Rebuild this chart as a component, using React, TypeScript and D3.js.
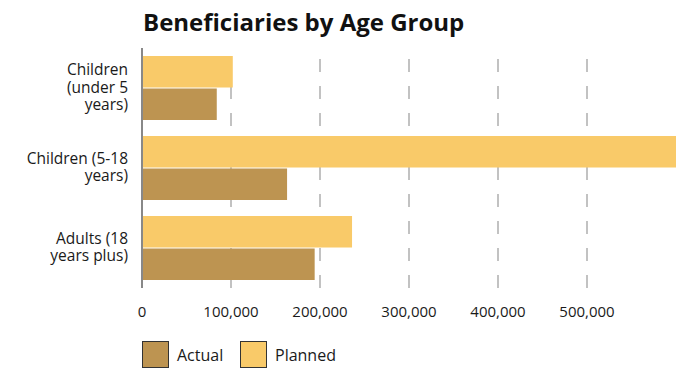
import React from "react";
import * as d3 from "d3";

const categories: string[][] = [
  ["Children", "(under 5", "years)"],
  ["Children (5-18", "years)"],
  ["Adults (18", "years plus)"],
];
const plannedValues: number[] = [102000, 600000, 236000];
const actualValues: number[] = [84000, 163000, 194000];
const tickValues: number[] = [0, 100000, 200000, 300000, 400000, 500000];
const seriesNames: string[] = ["Actual", "Planned"];
const seriesColors: string[] = ["#bd9451", "#f9ca69"];

const W = 688;
const H = 370;
const FONT = "'Open Sans', sans-serif";

export default function App() {
  const x = d3.scaleLinear().domain([0, 600000]).range([142, 676]);
  const y0 = d3
    .scaleBand<number>()
    .domain(d3.range(categories.length))
    .range([48, 288])
    .paddingInner(0.2)
    .paddingOuter(0.1);
  const y1 = d3
    .scaleBand<string>()
    .domain(["Planned", "Actual"])
    .range([0, y0.bandwidth()])
    .paddingInner(0.03);
  const fmt = d3.format(",");
  const lineH = 17.3;

  return (
    <svg
      width={W}
      height={H}
      style={{ position: "absolute", left: 0, top: 0, background: "#fff" }}
      fontFamily={FONT}
    >
      <text x={143} y={31} fontSize={24} fontWeight={700} fill="#111">
        Beneficiaries by Age Group
      </text>
      {tickValues
        .filter((t) => t > 0)
        .map((t) => (
          <line
            key={"g" + t}
            x1={x(t)}
            x2={x(t)}
            y1={288}
            y2={48}
            stroke="#c2c2c2"
            strokeWidth={2}
            strokeDasharray="13,14"
          />
        ))}
      {categories.map((c, i) => (
        <g key={"b" + i} transform={`translate(0,${y0(i)})`}>
          <rect
            x={x(0)}
            y={y1("Planned")}
            width={x(plannedValues[i]) - x(0)}
            height={y1.bandwidth()}
            fill={seriesColors[1]}
          />
          <rect
            x={x(0)}
            y={y1("Actual")}
            width={x(actualValues[i]) - x(0)}
            height={y1.bandwidth()}
            fill={seriesColors[0]}
          />
        </g>
      ))}
      <line x1={142} x2={142} y1={48} y2={288} stroke="#888" strokeWidth={2} />
      {categories.map((lines, i) => {
        const cy = (y0(i) as number) + y0.bandwidth() / 2;
        const first = cy - ((lines.length - 1) / 2) * lineH + 4.5;
        return (
          <text key={"l" + i} textAnchor="end" fontSize={15.5} fill="#1a1a1a">
            {lines.map((ln, j) => (
              <tspan key={j} x={128} y={first + j * lineH}>
                {ln}
              </tspan>
            ))}
          </text>
        );
      })}
      {tickValues.map((t) => (
        <text
          key={"t" + t}
          x={x(t)}
          y={317}
          textAnchor="middle"
          fontSize={15}
          fill="#1a1a1a"
        >
          {fmt(t)}
        </text>
      ))}
      {seriesNames.map((s, i) => {
        const lx = [142, 240][i];
        return (
          <g key={"lg" + s}>
            <rect
              x={lx + 0.5}
              y={341.5}
              width={26}
              height={26}
              fill={seriesColors[i]}
              stroke="#333"
              strokeWidth={1}
            />
            <text x={lx + 35} y={361} fontSize={16} fill="#1a1a1a">
              {s}
            </text>
          </g>
        );
      })}
    </svg>
  );
}
